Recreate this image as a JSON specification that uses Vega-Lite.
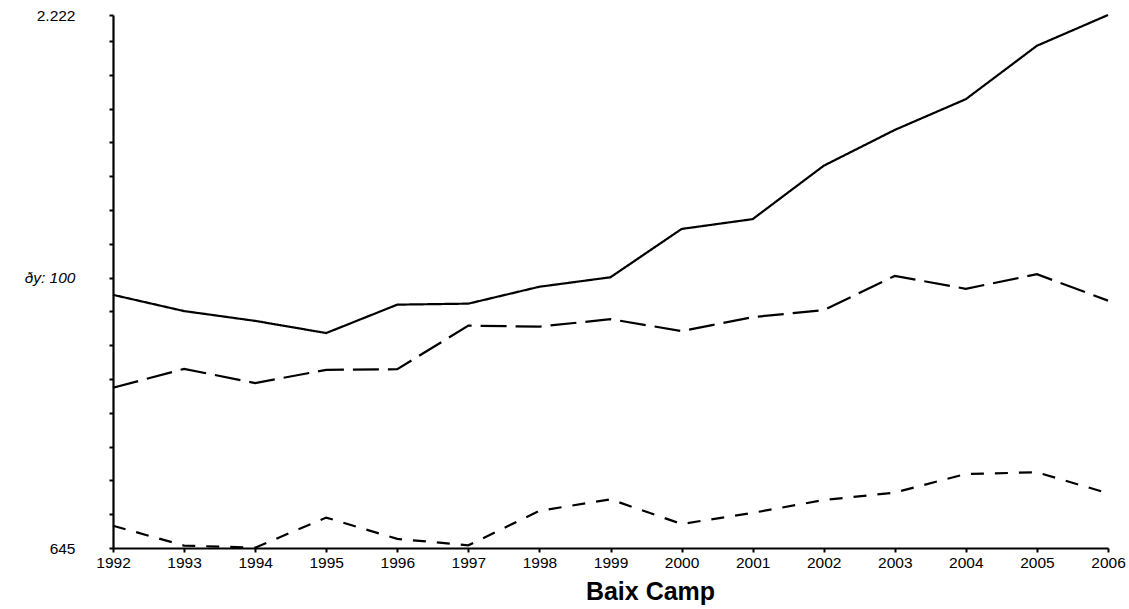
{
  "$schema": "https://vega.github.io/schema/vega-lite/v6.json",
  "autosize": {"type": "none"},
  "width": 995,
  "height": 533,
  "padding": {"left": 113, "top": 15, "right": 21, "bottom": 61},
  "background": "white",
  "config": {
    "view": {"stroke": null},
    "font": "Liberation Sans"
  },
  "data": {
    "values": [
      {"year": 1992, "serie": "A", "valor": 1394},
      {"year": 1993, "serie": "A", "valor": 1346},
      {"year": 1994, "serie": "A", "valor": 1317},
      {"year": 1995, "serie": "A", "valor": 1281},
      {"year": 1996, "serie": "A", "valor": 1365},
      {"year": 1997, "serie": "A", "valor": 1368},
      {"year": 1998, "serie": "A", "valor": 1418},
      {"year": 1999, "serie": "A", "valor": 1446},
      {"year": 2000, "serie": "A", "valor": 1589},
      {"year": 2001, "serie": "A", "valor": 1618},
      {"year": 2002, "serie": "A", "valor": 1776},
      {"year": 2003, "serie": "A", "valor": 1882},
      {"year": 2004, "serie": "A", "valor": 1973},
      {"year": 2005, "serie": "A", "valor": 2131},
      {"year": 2006, "serie": "A", "valor": 2222},
      {"year": 1992, "serie": "B", "valor": 1119},
      {"year": 1993, "serie": "B", "valor": 1175},
      {"year": 1994, "serie": "B", "valor": 1133},
      {"year": 1995, "serie": "B", "valor": 1172},
      {"year": 1996, "serie": "B", "valor": 1174},
      {"year": 1997, "serie": "B", "valor": 1303},
      {"year": 1998, "serie": "B", "valor": 1300},
      {"year": 1999, "serie": "B", "valor": 1322},
      {"year": 2000, "serie": "B", "valor": 1287},
      {"year": 2001, "serie": "B", "valor": 1328},
      {"year": 2002, "serie": "B", "valor": 1349},
      {"year": 2003, "serie": "B", "valor": 1450},
      {"year": 2004, "serie": "B", "valor": 1412},
      {"year": 2005, "serie": "B", "valor": 1455},
      {"year": 2006, "serie": "B", "valor": 1377},
      {"year": 1992, "serie": "C", "valor": 711},
      {"year": 1993, "serie": "C", "valor": 652},
      {"year": 1994, "serie": "C", "valor": 646},
      {"year": 1995, "serie": "C", "valor": 735},
      {"year": 1996, "serie": "C", "valor": 672},
      {"year": 1997, "serie": "C", "valor": 653},
      {"year": 1998, "serie": "C", "valor": 755},
      {"year": 1999, "serie": "C", "valor": 789},
      {"year": 2000, "serie": "C", "valor": 716},
      {"year": 2001, "serie": "C", "valor": 749},
      {"year": 2002, "serie": "C", "valor": 787},
      {"year": 2003, "serie": "C", "valor": 809},
      {"year": 2004, "serie": "C", "valor": 864},
      {"year": 2005, "serie": "C", "valor": 869},
      {"year": 2006, "serie": "C", "valor": 807}
    ]
  },
  "mark": {"type": "line", "color": "black", "strokeWidth": 2.2, "clip": false},
  "encoding": {
    "x": {
      "field": "year",
      "type": "quantitative",
      "scale": {"domain": [1992, 2006], "nice": false, "zero": false},
      "axis": {
        "title": "Baix Camp",
        "titleFontSize": 25,
        "titleFontWeight": "bold",
        "titleColor": "black",
        "titlePadding": 9,
        "titleX": 537,
        "titleAlign": "center",
        "values": [1992, 1993, 1994, 1995, 1996, 1997, 1998, 1999, 2000, 2001, 2002, 2003, 2004, 2005, 2006],
        "format": "d",
        "grid": false,
        "domainColor": "black",
        "domainWidth": 2.2,
        "tickColor": "black",
        "tickWidth": 2,
        "tickSize": 4,
        "labelFontSize": 15.5,
        "labelColor": "black",
        "labelPadding": 3,
        "labelFlush": false,
        "labelOverlap": false
      }
    },
    "y": {
      "field": "valor",
      "type": "quantitative",
      "scale": {"domain": [645, 2222], "nice": false, "zero": false},
      "axis": {
        "title": null,
        "values": [645, 745, 845, 945, 1045, 1145, 1245, 1345, 1445, 1545, 1645, 1745, 1845, 1945, 2045, 2145, 2222],
        "labelExpr": "datum.value == 645 ? '645' : datum.value == 2222 ? '2.222' : datum.value == 1445 ? 'ðy: 100' : ''",
        "labelFontStyle": {"condition": {"test": "datum.value == 1445", "value": "italic"}, "value": "normal"},
        "grid": false,
        "domainColor": "black",
        "domainWidth": 2.2,
        "tickColor": "black",
        "tickWidth": 2,
        "tickSize": 4,
        "labelFontSize": 15.5,
        "labelColor": "black",
        "labelPadding": 34,
        "labelFlush": false,
        "labelOverlap": false,
        "encode": {"labels": {"update": {"dx": {"signal": "datum.value == 1445 ? -15 : 0"}, "dy": {"signal": "datum.value == 1445 ? 0 : 3"}}}}
      }
    },
    "strokeDash": {
      "field": "serie",
      "type": "nominal",
      "scale": {"domain": ["A", "B", "C"], "range": [[1, 0], [26, 9], [13, 11]]},
      "legend": null
    }
  }
}
